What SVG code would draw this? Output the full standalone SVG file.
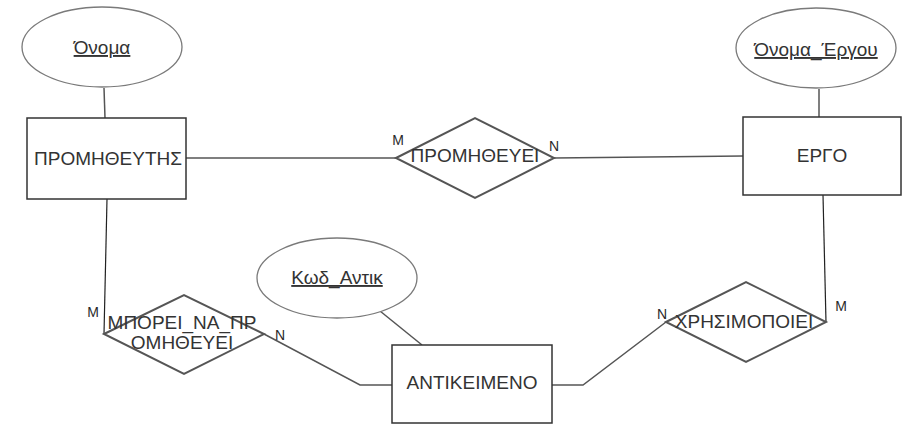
<svg xmlns="http://www.w3.org/2000/svg" width="902" height="426" viewBox="0 0 902 426">
  <style>
    .bg { fill: #ffffff; }
    .entity { fill: #ffffff; stroke: #333333; stroke-width: 1.5; }
    .attr { fill: #ffffff; stroke: #7a7a7a; stroke-width: 1.3; }
    .rel { fill: #ffffff; stroke: #555555; stroke-width: 2; }
    .conn { fill: none; stroke: #555555; stroke-width: 1.5; }
    .conn-v { fill: none; stroke: #222222; stroke-width: 1.2; }
    .label { font-family: "Liberation Sans", Arial, sans-serif; font-size: 19px; fill: #333333; text-anchor: middle; }
    .key { text-decoration: underline; }
    .card { font-family: "Liberation Sans", Arial, sans-serif; font-size: 14px; fill: #2a2a2a; text-anchor: middle; }
  </style>

  <rect class="bg" x="0" y="0" width="902" height="426"/>

  <!-- connectors -->
  <g id="connectors">
    <polyline class="conn" points="104,88 105,118"/>
    <polyline class="conn" points="186,158 396,158"/>
    <polyline class="conn" points="554,158 743,156"/>
    <polyline class="conn" points="819,89 819,117"/>
    <polyline class="conn-v" points="107,199 104,334"/>
    <polyline class="conn" points="264,334 360,385 392,385"/>
    <polyline class="conn" points="380,311 422,345"/>
    <polyline class="conn" points="552,385 583,385 666,322"/>
    <polyline class="conn-v" points="823,195 826,322"/>
  </g>

  <!-- attributes -->
  <g id="attr-onoma">
    <ellipse class="attr" cx="102" cy="47" rx="80" ry="40"/>
    <text class="label key" x="102" y="54">Όνομα</text>
  </g>
  <g id="attr-onoma-ergou">
    <ellipse class="attr" cx="816" cy="48" rx="80" ry="40"/>
    <text class="label key" x="816" y="56">Όνομα_Έργου</text>
  </g>
  <g id="attr-kod-antik">
    <ellipse class="attr" cx="337" cy="278" rx="80" ry="40"/>
    <text class="label key" x="337" y="284">Κωδ_Αντικ</text>
  </g>

  <!-- entities -->
  <g id="ent-promitheftis">
    <rect class="entity" x="27" y="118" width="159" height="81"/>
    <text class="label" x="108" y="165">ΠΡΟΜΗΘΕΥΤΗΣ</text>
  </g>
  <g id="ent-ergo">
    <rect class="entity" x="743" y="117" width="158" height="78"/>
    <text class="label" x="822" y="162">ΕΡΓΟ</text>
  </g>
  <g id="ent-antikeimeno">
    <rect class="entity" x="392" y="345" width="160" height="78"/>
    <text class="label" x="472" y="389">ΑΝΤΙΚΕΙΜΕΝΟ</text>
  </g>

  <!-- relationships -->
  <g id="rel-promitheyei">
    <polygon class="rel" points="396,158 475,118 554,158 475,198"/>
    <text class="label" x="475" y="162">ΠΡΟΜΗΘΕΥΕΙ</text>
    <text class="card" x="398" y="145">M</text>
    <text class="card" x="554" y="151">N</text>
  </g>
  <g id="rel-mporei">
    <polygon class="rel" points="104,334 184,295 264,334 184,374"/>
    <text class="label" x="182" y="329">ΜΠΟΡΕΙ_ΝΑ_ΠΡ</text>
    <text class="label" x="182" y="349">ΟΜΗΘΕΥΕΙ</text>
    <text class="card" x="93" y="317">M</text>
    <text class="card" x="280" y="340">N</text>
  </g>
  <g id="rel-xrisimopoiei">
    <polygon class="rel" points="666,322 746,282 826,322 746,362"/>
    <text class="label" x="744" y="328">ΧΡΗΣΙΜΟΠΟΙΕΙ</text>
    <text class="card" x="662" y="319">N</text>
    <text class="card" x="841" y="311">M</text>
  </g>
</svg>
